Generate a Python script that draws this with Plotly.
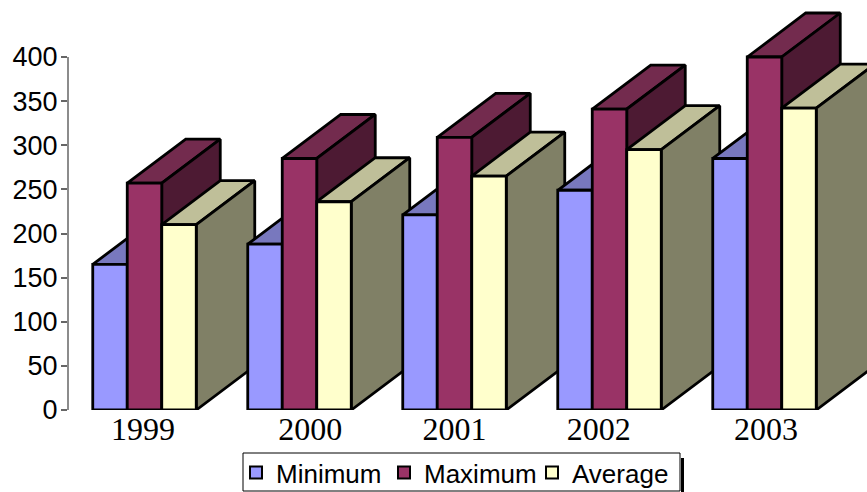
import plotly.graph_objects as go

years = ["1999", "2000", "2001", "2002", "2003"]
minimum = [165, 188, 221, 249, 285]
maximum = [257, 285, 309, 341, 400]
average = [210, 236, 265, 295, 342]
y_ticks = [0, 50, 100, 150, 200, 250, 300, 350, 400]
label_offsets = [-0.01, 1.07, 2.0, 2.93, 4.01]

series = [
    ("Minimum", minimum, "#9999FF", "#7878BE", "#4D4D80"),
    ("Maximum", maximum, "#993366", "#732B4E", "#4D1A33"),
    ("Average", average, "#FFFFCC", "#BFBF99", "#808066"),
]

BAR = 34.5 / 155
DX = 58.5 / 155
DY = 44 / 0.8825
LW = 2.8
W, H = 867, 492

fig = go.Figure()


def face(xs, ys, color):
    fig.add_trace(go.Scatter(
        x=xs + xs[:1], y=ys + ys[:1], mode="lines", fill="toself", fillcolor=color,
        line=dict(color="black", width=LW), hoverinfo="skip", showlegend=False,
    ))


for g in range(len(years)):
    for s, (name, vals, front, top, side) in enumerate(series):
        x0 = g + (s - 1.5) * BAR
        x1 = x0 + BAR
        v = vals[g]
        face([x0, x1, x1 + DX, x0 + DX], [v, v, v + DY, v + DY], top)
        face([x1, x1 + DX, x1 + DX, x1], [0, DY, v + DY, v], side)
        face([x0, x1, x1, x0], [0, 0, v, v], front)

for name, vals, front, top, side in series:
    fig.add_trace(go.Scatter(
        x=[None], y=[None], mode="markers", name=name,
        marker=dict(symbol="square", size=14, color=front, line=dict(color="black", width=2)),
    ))

fig.add_shape(type="line", xref="paper", x0=68 / W, x1=68 / W, yref="y", y0=0, y1=400,
              line=dict(color="#666666", width=1.5))
fig.add_shape(type="rect", xref="paper", yref="paper",
              x0=243 / W, x1=680 / W, y0=1 - 491 / H, y1=1 - 453 / H,
              line=dict(color="black", width=1), fillcolor="white")
fig.add_shape(type="line", xref="paper", yref="paper",
              x0=682.5 / W, x1=682.5 / W, y0=0, y1=1 - 458 / H,
              line=dict(color="black", width=3))

fig.update_layout(
    width=W, height=H,
    margin=dict(l=0, r=0, t=0, b=0, autoexpand=False),
    paper_bgcolor="white", plot_bgcolor="white",
    showlegend=True,
    legend=dict(
        orientation="h", x=236 / W, xanchor="left", y=1 - 449 / H, yanchor="top",
        font=dict(family="Liberation Sans", size=26, color="black"),
        borderwidth=0, bgcolor="rgba(0,0,0,0)",
        itemsizing="constant", tracegroupgap=0,
        entrywidth=103, entrywidthmode="pixels",
    ),
    xaxis=dict(
        domain=[68 / W, 1],
        range=[-76.5 / 155, 722.5 / 155], tickmode="array",
        tickvals=label_offsets, ticktext=years, ticks="", showline=False,
        showgrid=False, zeroline=False, automargin=False, ticklabelstandoff=-3,
        tickfont=dict(family="Liberation Serif", size=32, color="black"),
    ),
    yaxis=dict(
        domain=[(H - 410) / H, 1],
        range=[0, 410 / 0.8825], tickmode="array", tickvals=y_ticks,
        ticks="outside", ticklen=6, tickwidth=1.5, tickcolor="#666666",
        showline=False, showgrid=False, zeroline=False, automargin=False,
        ticklabelstandoff=-2,
        tickfont=dict(family="Liberation Sans", size=27, color="black"),
    ),
)

fig.write_html("out.html", post_script="document.body.style.margin='0';",
               config={"displayModeBar": False})
